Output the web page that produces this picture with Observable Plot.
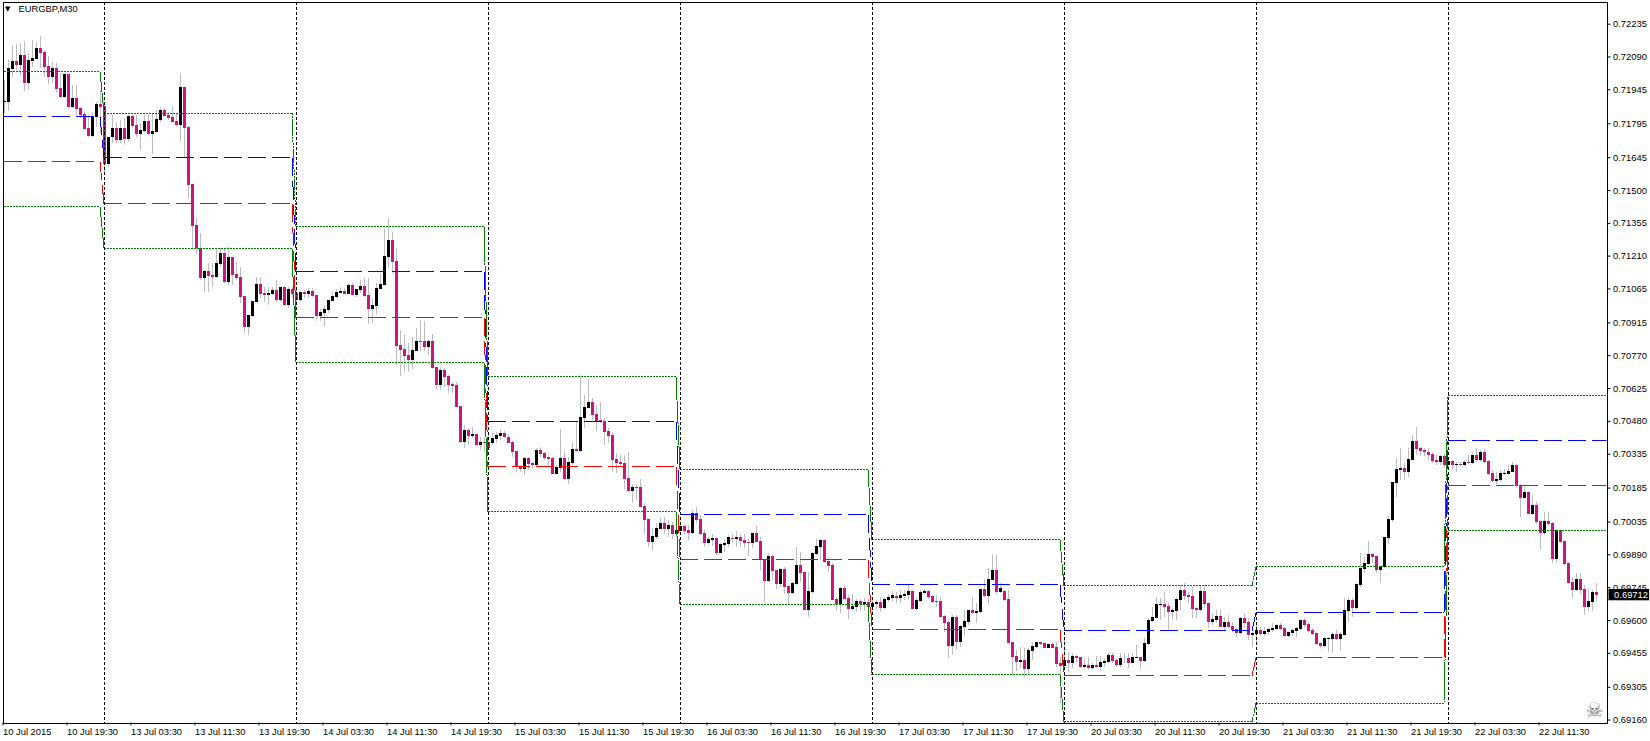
<!DOCTYPE html>
<html><head><meta charset="utf-8">
<script src="https://cdn.jsdelivr.net/npm/d3@7"></script>
<script src="https://cdn.jsdelivr.net/npm/@observablehq/plot@0.6"></script>
<style>html,body{margin:0;background:#fff}svg{display:block}</style>
</head><body><div id="chart"></div>
<script>
// EURGBP M30 bars, prices in points (1e-5). Bar numbers run from -1.
const opens=[71889,71891,72035,72070,72053,72097,71973,72072,72079,72128,72110,72048,72000,72039,71951,71911,72013,71867,71907,71863,71836,71774,71739,71824,71880,71871,71615,71734,71774,71721,71774,71726,71827,71788,71748,71761,71805,71748,71757,71810,71854,71832,71823,71805,71788,71955,71779,71527,71345,71242,71111,71142,71125,71116,71173,71222,71094,71204,71129,71116,71032,70895,70943,71005,71085,71045,71036,71041,71058,71014,71071,70992,71063,71043,71014,71049,71040,71054,71036,70943,70956,70970,71009,71027,71045,71054,71040,71080,71036,71058,71076,71036,70974,70987,71062,71080,71204,71279,71186,70815,70797,70771,70749,70788,70833,70833,70806,70833,70718,70638,70704,70678,70643,70638,70545,70386,70439,70413,70422,70373,70386,70386,70382,70399,70413,70426,70408,70386,70346,70280,70267,70315,70293,70285,70351,70338,70320,70315,70245,70271,70315,70223,70293,70355,70346,70492,70536,70563,70510,70483,70479,70435,70417,70311,70298,70293,70227,70170,70187,70187,70103,70046,69944,69966,70002,70028,70002,70019,69980,69993,70015,69997,69984,70072,70046,69984,69940,69953,69962,69896,69931,69935,69962,69957,69966,69953,69944,69940,69984,69949,69868,69772,69882,69820,69759,69825,69750,69719,69759,69843,69812,69644,69723,69891,69922,69953,69860,69843,69692,69670,69741,69697,69648,69657,69683,69670,69679,69658,69670,69679,69652,69688,69697,69706,69697,69706,69710,69728,69648,69683,69719,69728,69706,69682,69683,69617,69591,69484,69613,69502,69568,69591,69644,69630,69635,69736,69705,69776,69820,69723,69728,69692,69502,69440,69414,69423,69383,69463,69480,69502,69498,69476,69494,69480,69410,69396,69423,69410,69441,69436,69392,69401,69387,69401,69392,69410,69414,69445,69423,69401,69432,69432,69410,69433,69436,69418,69494,69595,69608,69666,69670,69661,69635,69639,69688,69732,69710,69706,69653,69644,69728,69675,69591,69600,69617,69569,69591,69573,69560,69542,69608,69591,69533,69538,69555,69538,69547,69555,69560,69577,69564,69529,69542,69551,69560,69600,69582,69555,69542,69498,69485,69517,69516,69538,69516,69533,69639,69688,69653,69754,69825,69847,69891,69883,69821,69833,69962,70041,70205,70262,70271,70253,70306,70390,70359,70351,70342,70333,70306,70298,70324,70284,70302,70284,70289,70284,70298,70293,70329,70306,70342,70302,70249,70214,70218,70245,70245,70253,70284,70196,70138,70165,70068,70108,70037,69984,70037,70028,69869,69997,69948,69851,69767,69732,69780,69736,69657,69679,69723];
const closes=[71894,72038,72070,72053,72097,71973,72075,72082,72128,72107,72044,72000,72038,71947,71911,72013,71867,71907,71858,71832,71770,71739,71824,71880,71867,71615,71734,71774,71721,71774,71726,71827,71783,71748,71765,71805,71748,71761,71814,71854,71827,71818,71801,71788,71955,71774,71522,71341,71242,71111,71142,71120,71116,71178,71222,71094,71204,71125,71111,71027,70895,70948,71010,71085,71041,71036,71045,71058,71014,71071,70992,71063,71041,71014,71049,71040,71054,71031,70943,70961,70974,71014,71031,71049,71054,71040,71080,71036,71062,71076,71031,70974,70992,71067,71085,71208,71279,71182,70810,70793,70766,70749,70793,70833,70828,70806,70833,70713,70638,70704,70673,70638,70634,70541,70386,70439,70413,70422,70373,70386,70382,70360,70404,70417,70426,70408,70382,70342,70280,70267,70315,70289,70285,70351,70333,70315,70311,70245,70276,70315,70223,70298,70355,70346,70497,70541,70563,70506,70479,70475,70430,70413,70307,70293,70289,70223,70170,70187,70183,70099,70041,69944,69971,70006,70028,70002,70019,69980,69997,70015,69993,69984,70072,70041,69980,69940,69957,69962,69896,69935,69940,69966,69957,69966,69949,69940,69940,69984,69944,69865,69772,69882,69816,69759,69825,69745,69719,69763,69843,69807,69644,69728,69896,69926,69953,69856,69838,69688,69670,69741,69692,69648,69661,69683,69670,69679,69657,69676,69679,69652,69692,69701,69710,69697,69710,69714,69728,69648,69688,69723,69728,69701,69679,69679,69613,69586,69484,69613,69502,69573,69595,69644,69630,69639,69736,69705,69779,69820,69723,69741,69688,69498,69436,69414,69423,69383,69467,69485,69502,69494,69476,69494,69476,69405,69396,69423,69410,69441,69432,69392,69401,69387,69401,69392,69414,69418,69445,69418,69401,69432,69430,69410,69436,69438,69418,69498,69600,69613,69670,69670,69657,69635,69644,69692,69732,69706,69701,69648,69644,69728,69670,69591,69604,69617,69569,69591,69569,69555,69542,69608,69586,69533,69542,69555,69538,69551,69560,69564,69577,69560,69529,69547,69555,69564,69600,69577,69551,69538,69494,69485,69520,69520,69538,69516,69538,69644,69688,69653,69759,69829,69852,69891,69878,69821,69838,69966,70046,70209,70267,70271,70253,70311,70390,70355,70346,70342,70329,70302,70298,70324,70284,70302,70284,70289,70284,70298,70293,70329,70306,70342,70298,70245,70214,70222,70249,70249,70258,70284,70191,70138,70165,70068,70108,70032,69984,70037,70024,69869,69997,69944,69847,69763,69732,69780,69732,69657,69683,69723,69712];
const highs=[71986,72075,72141,72146,72148,72157,72104,72163,72156,72181,72119,72090,72067,72060,72016,72016,72013,71964,71964,71869,71846,71832,71846,71891,71942,71876,71736,71832,71795,71810,71817,71832,71832,71832,71795,71832,71832,71839,71854,71866,71861,71846,71871,71839,72016,71955,71783,71527,71375,71309,71147,71176,71176,71242,71242,71242,71250,71206,71183,71161,71032,70948,71010,71117,71117,71073,71073,71073,71102,71073,71076,71073,71073,71073,71049,71058,71065,71065,71036,70973,70992,71014,71051,71062,71073,71065,71087,71087,71062,71102,71110,71110,71021,71087,71132,71326,71376,71314,71242,70881,70862,70825,70852,70889,70925,70921,70837,70864,70718,70719,70712,70682,70653,70653,70545,70461,70447,70454,70422,70407,70407,70425,70425,70432,70442,70436,70417,70392,70346,70285,70321,70321,70299,70358,70363,70343,70329,70321,70285,70445,70346,70321,70388,70476,70682,70594,70663,70579,70550,70563,70491,70447,70432,70336,70329,70329,70343,70203,70203,70221,70115,70046,70005,70027,70056,70056,70041,70034,70027,70027,70018,70019,70086,70100,70063,69997,69968,69982,69968,69938,69960,69975,69982,69994,69982,69982,69960,69990,70019,69965,69868,69894,69887,69823,69828,69835,69754,69769,69921,69901,69813,69813,69901,69960,69960,69953,69879,69850,69703,69747,69754,69710,69714,69691,69691,69695,69691,69703,69688,69703,69703,69714,69729,69725,69732,69732,69753,69732,69703,69732,69735,69732,69710,69710,69703,69622,69599,69622,69622,69577,69644,69644,69703,69673,69739,69779,69828,69891,69887,69762,69732,69732,69502,69467,69479,69474,69474,69504,69504,69504,69504,69496,69504,69504,69438,69526,69460,69455,69445,69438,69430,69438,69408,69441,69441,69430,69452,69452,69430,69452,69452,69452,69452,69489,69438,69519,69607,69659,69703,69695,69725,69673,69651,69695,69754,69765,69725,69747,69656,69754,69754,69675,69629,69644,69647,69614,69622,69592,69570,69614,69629,69607,69548,69582,69570,69570,69570,69588,69582,69585,69570,69548,69563,69570,69603,69607,69592,69563,69548,69504,69523,69526,69548,69555,69548,69695,69703,69695,69762,69894,69880,69950,69897,69883,69838,69968,70059,70211,70314,70358,70292,70358,70417,70454,70365,70358,70358,70343,70329,70329,70333,70314,70306,70299,70299,70306,70329,70343,70358,70351,70354,70306,70262,70255,70262,70265,70284,70299,70284,70203,70189,70166,70152,70122,70041,70078,70078,70034,70004,70004,69953,69857,69791,69808,69808,69754,69735,69732,69764];
const lows=[71839,71849,72001,72031,72009,71939,71942,72045,72078,72038,71998,71969,71975,71927,71905,71905,71861,71861,71832,71817,71765,71733,71733,71780,71751,71567,71603,71706,71706,71706,71699,71714,71773,71736,71677,71751,71743,71659,71751,71802,71824,71810,71795,71780,71718,71648,71463,71242,71217,71102,71051,71051,71073,71110,71161,71088,71080,71080,71102,70999,70867,70859,70940,71005,71021,71007,70992,71036,71007,71007,70988,70977,71021,71000,71006,71021,71021,71029,70922,70922,70900,70955,71009,71021,71045,71040,71040,71034,71026,71043,71029,70908,70911,70952,71062,71080,71154,71132,70727,70678,70697,70697,70709,70788,70788,70788,70771,70713,70619,70616,70631,70601,70601,70541,70380,70358,70373,70402,70369,70351,70343,70358,70373,70380,70395,70402,70380,70321,70255,70255,70240,70262,70270,70277,70321,70307,70285,70245,70245,70255,70218,70201,70285,70343,70343,70447,70536,70483,70435,70469,70373,70380,70255,70248,70277,70181,70167,70118,70130,70099,69982,69924,69909,69960,70000,69982,69968,69956,69968,69990,69982,69953,69982,70027,69975,69921,69931,69926,69887,69894,69901,69924,69946,69921,69924,69916,69882,69916,69944,69820,69673,69769,69776,69739,69747,69717,69666,69717,69754,69769,69644,69614,69717,69887,69865,69850,69813,69688,69641,69632,69688,69605,69644,69636,69641,69644,69657,69636,69644,69636,69647,69680,69685,69676,69676,69688,69688,69647,69644,69680,69714,69691,69673,69658,69607,69548,69430,69445,69467,69479,69529,69577,69629,69585,69632,69703,69670,69776,69717,69720,69685,69496,69356,69375,69386,69346,69357,69423,69474,69489,69474,69474,69474,69393,69231,69393,69371,69386,69408,69386,69382,69379,69379,69389,69379,69393,69408,69408,69393,69393,69408,69390,69408,69430,69382,69415,69489,69592,69607,69600,69614,69555,69600,69600,69644,69688,69673,69607,69607,69636,69651,69563,69577,69588,69567,69555,69567,69548,69526,69533,69563,69511,69479,69489,69529,69529,69533,69548,69555,69555,69526,69523,69529,69526,69552,69570,69548,69533,69489,69474,69482,69460,69455,69511,69464,69529,69592,69614,69644,69747,69806,69843,69850,69806,69765,69828,69936,70034,70144,70218,70218,70233,70306,70329,70329,70324,70306,70292,70284,70284,70270,70277,70265,70255,70280,70280,70289,70289,70299,70299,70295,70240,70211,70203,70211,70240,70240,70253,70189,70056,70137,70068,70063,70026,69909,69975,70019,69850,69850,69938,69842,69761,69695,69729,69717,69621,69640,69640,69685];

// Daily levels, one value per trading-day block
const dayStarts=[24,72,120,168,216,264,312,360];
const greenUpper=[72025,71842,71340,70677,70266,69956,69753,69837,70593];
const blueLevel =[71826,71645,71141,70478,70067,69757,69554,69634,70394];
const redLevel  =[71627,71441,70938,70279,69868,69558,69355,69435,70195];
const greenLower=[71428,71243,70739,70080,69669,69360,69152,69234,69996];

const tickBars=[-1,15,31,47,63,79,95,111,127,143,159,175,191,207,223,239,255,271,287,303,319,335,351,367,383];
const tickLabels=["10 Jul 2015","10 Jul 19:30","13 Jul 03:30","13 Jul 11:30","13 Jul 19:30","14 Jul 03:30","14 Jul 11:30","14 Jul 19:30","15 Jul 03:30","15 Jul 11:30","15 Jul 19:30","16 Jul 03:30","16 Jul 11:30","16 Jul 19:30","17 Jul 03:30","17 Jul 11:30","17 Jul 19:30","20 Jul 03:30","20 Jul 11:30","20 Jul 19:30","21 Jul 03:30","21 Jul 11:30","21 Jul 19:30","22 Jul 03:30","22 Jul 11:30"];
const priceTicks=[0.72235,0.72090,0.71945,0.71795,0.71645,0.71500,0.71355,0.71210,0.71065,0.70915,0.70770,0.70625,0.70480,0.70335,0.70185,0.70035,0.69890,0.69745,0.69600,0.69455,0.69305,0.69160];
const lastPrice=0.69712;

const P=v=>v/1e5;
const bars=opens.map((o,k)=>({bar:k-1,open:P(o),close:P(closes[k]),high:P(highs[k]),low:P(lows[k])}));
// Each day's flat level and each day-change step is its own path, so the dash phase restarts at every day.
const levelLine=(vals)=>vals.flatMap((v,d)=>{
  const start=d===0?-1:dayStarts[d-1];
  const end=d===vals.length-1?401:dayStarts[d]-1;
  const pts=[{bar:start,v:P(v),seg:"day"+d},{bar:end,v:P(v),seg:"day"+d}];
  if(d<vals.length-1) pts.push({bar:end,v:P(v),seg:"step"+d},{bar:dayStarts[d],v:P(vals[d+1]),seg:"step"+d});
  return pts;
});
const levelMark=(vals,stroke,dash)=>Plot.line(levelLine(vals),{x:"bar",y:"v",z:"seg",stroke,strokeWidth:1,strokeDasharray:dash,clip:true,shapeRendering:"crispEdges",curve:"linear"});
const FONT="Liberation Sans";

const chart=Plot.plot({
  width:1650,height:741,
  marginLeft:2.5,marginRight:43.5,marginTop:1.5,marginBottom:18.5,
  style:{fontFamily:FONT,fontSize:"9.4px",background:"#fff",color:"#000",overflow:"visible"},
  x:{type:"linear",domain:[-1.25,399.75]},
  y:{type:"linear",domain:[0.69147,0.72333]},
  marks:[
    Plot.ruleX(bars,{x:"bar",y1:"low",y2:"high",stroke:"#bdbdbd",strokeWidth:1,shapeRendering:"crispEdges",clip:true}),
    Plot.ruleX(bars,{x:"bar",y1:"open",y2:"close",stroke:d=>d.close>=d.open?"#000000":"#c71585",strokeWidth:3,shapeRendering:"crispEdges",clip:true}),
    levelMark(greenUpper,"#008000","2 1"),
    levelMark(greenLower,"#008000","2 1"),
    levelMark(blueLevel,"#0000ff","18 6"),
    levelMark(redLevel,"#ff0000","18 6"),
    Plot.ruleX(dayStarts,{stroke:"#000",strokeWidth:1,strokeDasharray:"3 2",shapeRendering:"crispEdges"}),
    Plot.frame({stroke:"#000",strokeWidth:1,shapeRendering:"crispEdges"}),
    Plot.axisX(tickBars,{anchor:"bottom",label:null,tickSize:3,tickPadding:2,textAnchor:"start",dx:-1,
      tickFormat:d=>tickLabels[tickBars.indexOf(d)]}),
    Plot.axisY(priceTicks,{anchor:"right",label:null,tickSize:3,tickPadding:3,tickFormat:d=>d.toFixed(5)}),
    Plot.rect([lastPrice],{x1:400.25,x2:410.4,y1:d=>d-0.00025,y2:d=>d+0.00025,fill:"#000",clip:false}),
    Plot.text([lastPrice],{x:410,y:d=>d,text:d=>d.toFixed(5),fill:"#fff",textAnchor:"end",clip:false}),
    Plot.text(["☠"],{x:396.6,y:0.69200,fill:"#7d7d7d",fontSize:20,fontFamily:"DejaVu Sans"}),
    Plot.text(["▼"],{frameAnchor:"top-left",dx:2,dy:4,fontSize:7,fill:"#000",fontFamily:"DejaVu Sans"}),
    Plot.text(["EURGBP,M30"],{frameAnchor:"top-left",dx:15.5,dy:3,fontSize:9.4,fill:"#000"})
  ]
});
document.getElementById("chart").appendChild(chart);
</script>
</body></html>
